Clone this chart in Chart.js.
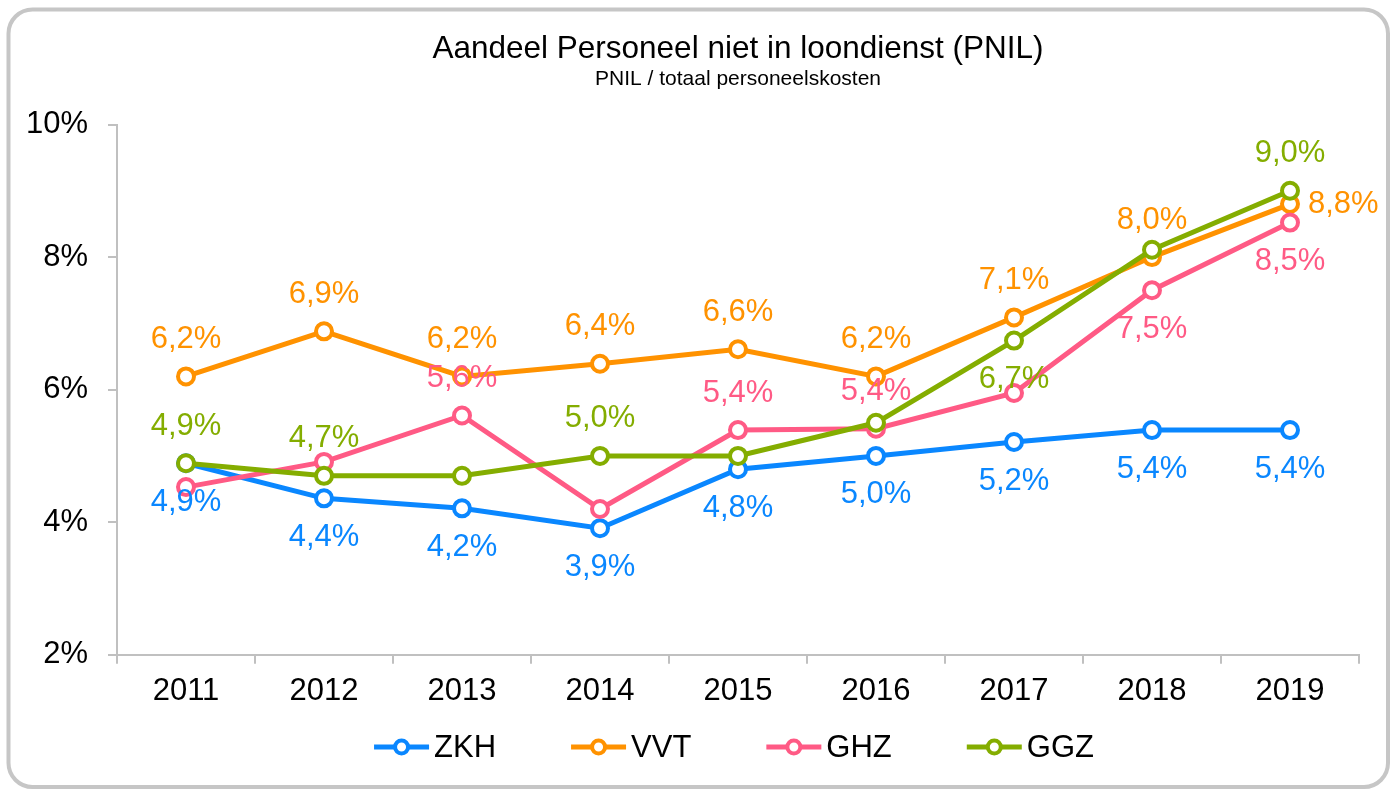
<!DOCTYPE html>
<html>
<head>
<meta charset="utf-8">
<script src="https://cdn.jsdelivr.net/npm/chart.js@4"></script>
<style>
  html, body { margin: 0; padding: 0; background: #fff; }
</style>
</head>
<body>
<canvas id="lineChart" width="1400" height="789"></canvas>
<script>
// data
const years = ['2011', '2012', '2013', '2014', '2015', '2016', '2017', '2018', '2019'];
const zkh = [4.89, 4.36, 4.21, 3.91, 4.80, 5.00, 5.21, 5.39, 5.39];
const vvt = [6.20, 6.88, 6.20, 6.39, 6.61, 6.20, 7.09, 8.00, 8.80];
const ghz = [4.53, 4.91, 5.61, 4.20, 5.39, 5.41, 5.95, 7.50, 8.52];
const ggz = [4.89, 4.70, 4.70, 5.00, 5.00, 5.50, 6.74, 8.11, 9.00];
const yTicks = [2, 4, 6, 8, 10];

// where the value label of each point goes ('' = no label)
const zkhLabelPos = ['below', 'below', 'below', 'below', 'below', 'below', 'below', 'below', 'below'];
const vvtLabelPos = ['above', 'above', 'above', 'above', 'above', 'above', 'above', 'above', 'right'];
const ghzLabelPos = ['', '', 'above', '', 'above', 'above', '', 'below', 'below'];
const ggzLabelPos = ['above', 'above', '', 'above', '', '', 'below', '', 'above'];

const FONT = '"Liberation Sans", Arial, sans-serif';
Chart.defaults.font.family = FONT;
Chart.defaults.color = '#000';

function makeSet(label, values, color, labelPos, order) {
  return {
    label: label,
    data: values,
    labelPos: labelPos,
    order: order,
    borderColor: color,
    backgroundColor: color,
    borderWidth: 5,
    tension: 0,
    pointRadius: 8,
    pointHoverRadius: 8,
    pointBorderWidth: 4,
    pointBackgroundColor: '#fff',
    pointBorderColor: color
  };
}

// frame round the whole chart
const frame = {
  id: 'frame',
  beforeDraw(chart) {
    const ctx = chart.ctx;
    ctx.save();
    ctx.fillStyle = '#fff';
    ctx.fillRect(0, 0, chart.width, chart.height);
    ctx.strokeStyle = '#c6c6c6';
    ctx.lineWidth = 4;
    ctx.beginPath();
    ctx.roundRect(8.5, 9.5, 1379.5, 777.5, 24);
    ctx.stroke();
    ctx.restore();
  }
};

// value labels next to the points
const pointLabels = {
  id: 'pointLabels',
  afterDatasetsDraw(chart) {
    const ctx = chart.ctx;
    ctx.save();
    ctx.font = '31px ' + FONT;
    ctx.textBaseline = 'middle';
    chart.data.datasets.forEach((ds, i) => {
      const meta = chart.getDatasetMeta(i);
      meta.data.forEach((pt, j) => {
        const pos = ds.labelPos[j];
        if (!pos) return;
        const txt = ds.data[j].toFixed(1).replace('.', ',') + '%';
        let x = pt.x, y = pt.y;
        ctx.fillStyle = ds.borderColor;
        if (pos === 'above') { ctx.textAlign = 'center'; y -= 37; }
        else if (pos === 'below') { ctx.textAlign = 'center'; y += 39; }
        else { ctx.textAlign = 'left'; x += 18; }
        ctx.fillText(txt, x, y);
      });
    });
    ctx.restore();
  }
};

// legend: line with open circle, then the name
const lineLegend = {
  id: 'lineLegend',
  afterDraw(chart) {
    const ctx = chart.ctx;
    const sets = chart.data.datasets;
    const lineW = 55, gapText = 5, gapItem = 75, y = 747;
    ctx.save();
    ctx.font = '31px ' + FONT;
    ctx.textBaseline = 'middle';
    ctx.textAlign = 'left';
    const widths = sets.map(ds => ctx.measureText(ds.label).width);
    let total = gapItem * (sets.length - 1);
    widths.forEach(w => { total += lineW + gapText + w; });
    const area = chart.chartArea;
    let x = (area.left + area.right) / 2 - total / 2 - 4;
    sets.forEach((ds, i) => {
      ctx.strokeStyle = ds.borderColor;
      ctx.lineWidth = 5;
      ctx.beginPath();
      ctx.moveTo(x, y);
      ctx.lineTo(x + lineW, y);
      ctx.stroke();
      ctx.fillStyle = '#fff';
      ctx.lineWidth = 4;
      ctx.beginPath();
      ctx.arc(x + lineW / 2, y, 6.5, 0, Math.PI * 2);
      ctx.fill();
      ctx.stroke();
      ctx.fillStyle = '#000';
      ctx.fillText(ds.label, x + lineW + gapText, y + 1);
      x += lineW + gapText + widths[i] + gapItem;
    });
    ctx.restore();
  }
};

const data = {
  labels: years,
  datasets: [
    makeSet('ZKH', zkh, '#0A87FF', zkhLabelPos, 4),
    makeSet('VVT', vvt, '#FF9200', vvtLabelPos, 3),
    makeSet('GHZ', ghz, '#FF5A85', ghzLabelPos, 2),
    makeSet('GGZ', ggz, '#84AD00', ggzLabelPos, 1)
  ]
};

const config = {
  type: 'line',
  data: data,
  options: {
    responsive: false,
    animation: false,
    devicePixelRatio: 1,
    layout: {
      padding: { top: 0, left: 0, right: 41, bottom: 70 }
    },
    plugins: {
      legend: { display: false },
      tooltip: { enabled: false },
      title: {
        display: true,
        fullSize: false,
        text: 'Aandeel Personeel niet in loondienst (PNIL)',
        color: '#000',
        font: { size: 31.5, weight: 'normal', lineHeight: 1 },
        padding: { top: 34, bottom: 0 }
      },
      subtitle: {
        display: true,
        fullSize: false,
        text: 'PNIL / totaal personeelskosten',
        color: '#000',
        font: { size: 21, weight: 'normal', lineHeight: 1 },
        padding: { top: 3, bottom: 35 }
      }
    },
    scales: {
      x: {
        offset: true,
        grid: {
          offset: true,
          drawOnChartArea: false,
          tickLength: 9,
          color: '#c0c0c0',
          lineWidth: 2
        },
        border: { color: '#c0c0c0', width: 2 },
        ticks: { font: { size: 31 }, color: '#000', padding: 9 }
      },
      y: {
        min: 2,
        max: 10,
        afterFit: (scale) => { scale.width = 117; },
        afterBuildTicks: (scale) => { scale.ticks = yTicks.map(v => ({ value: v })); },
        grid: {
          drawOnChartArea: false,
          tickLength: 9,
          color: '#c0c0c0',
          lineWidth: 2
        },
        border: { color: '#c0c0c0', width: 2 },
        ticks: {
          font: { size: 31 },
          color: '#000',
          padding: 20,
          callback: (v) => v + '%'
        }
      }
    }
  },
  plugins: [frame, pointLabels, lineLegend]
};

const myChart = new Chart(document.getElementById('lineChart'), config);
</script>
</body>
</html>
